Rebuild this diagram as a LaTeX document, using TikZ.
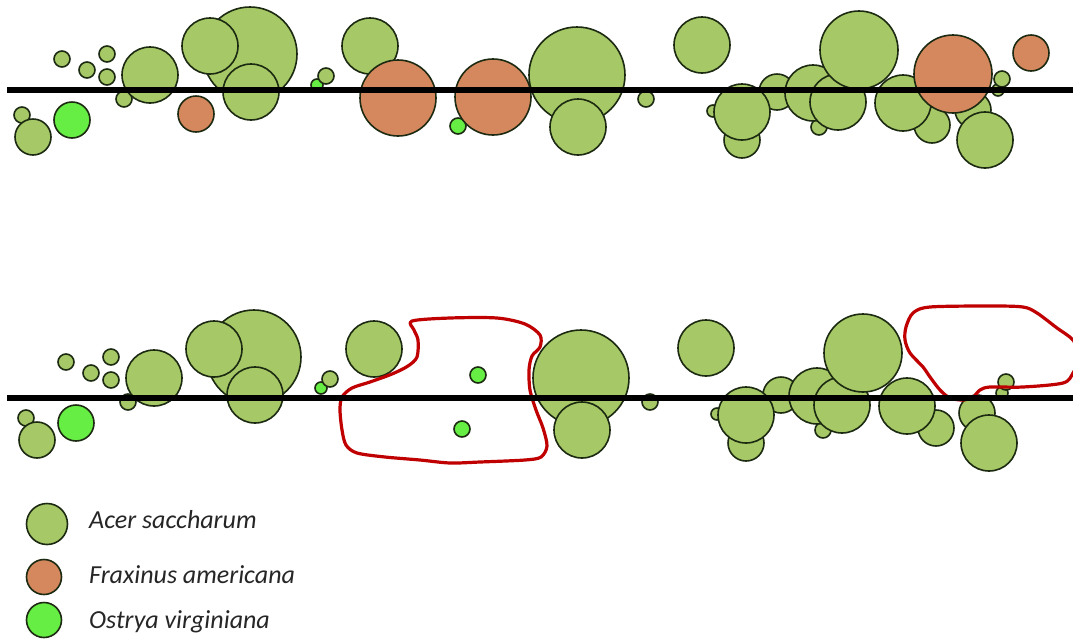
\documentclass[tikz,border=0pt]{standalone}
\usepackage{fontspec}
\newfontfamily\legendfont{Carlito}
\definecolor{acerc}{HTML}{A6C866}
\definecolor{fraxc}{HTML}{D5885E}
\definecolor{ostrc}{HTML}{66EE44}
\definecolor{outl}{HTML}{1C2A12}
\definecolor{gapc}{HTML}{C00000}
\tikzset{
  crown/.style={draw=outl, line width=1.6pt},
  acer/.style={crown, fill=acerc},
  frax/.style={crown, fill=fraxc},
  ostr/.style={crown, fill=ostrc},
  transect/.style={draw=black, line width=5.5pt},
  gapline/.style={draw=gapc, line width=3.2pt, line join=round},
  legendtext/.style={anchor=base west, inner sep=0pt, text=black!85,
    font=\legendfont\itshape\fontsize{26}{30}\selectfont}
}
% one crown: style, x, y, radius (all in px)
\newcommand\crown[4]{\path[#1] (#2,#3) circle[radius=#4pt];}
% crowns lying behind the ash trees
\newcommand\backcrowns{%
  \crown{acer}{22}{115}{8}
  \crown{acer}{33}{137}{18}
  \crown{ostr}{72}{120}{18}
  \crown{acer}{62}{59}{8}
  \crown{acer}{87}{70}{8}
  \crown{acer}{107}{54}{8}
  \crown{acer}{107}{77}{8}
  \crown{acer}{124}{99}{8}
  \crown{acer}{150}{75}{28}
  \crown{acer}{250}{54}{47}
  \crown{acer}{210}{46}{28}
  \crown{acer}{251}{92}{28}
  \crown{ostr}{317}{85}{6}
  \crown{acer}{326}{76}{8}
  \crown{acer}{370}{46}{28}
  \crown{ostr}{458}{126}{8}
  \crown{acer}{577}{75}{48}
  \crown{acer}{578}{127}{28}
  \crown{acer}{646}{99}{8}
  \crown{acer}{702}{45}{28}
  \crown{acer}{713}{111}{6}
  \crown{acer}{742}{140}{18}
  \crown{acer}{777}{92}{18}
  \crown{acer}{742}{112}{28}
  \crown{acer}{819}{127}{8}
  \crown{acer}{813}{93}{28}
  \crown{acer}{838}{102}{28}
  \crown{acer}{859}{50}{39}
  \crown{acer}{932}{125}{18}
  \crown{acer}{903}{103}{28}
  \crown{acer}{973}{110}{18}
  \crown{acer}{998}{90}{6}
}
% ash crowns (Fraxinus americana)
\newcommand\ashcrowns{%
  \crown{frax}{196}{114}{18}
  \crown{frax}{398}{98}{38}
  \crown{frax}{493}{97}{38}
  \crown{frax}{953}{74}{39}
  \crown{frax}{1031}{53}{18}
}
% crowns lying above the ash trees
\newcommand\frontcrowns{%
  \crown{acer}{1002}{79}{8}
  \crown{acer}{985}{140}{28}
}
\begin{document}
\begin{tikzpicture}[x=1pt,y=-1pt]
  \useasboundingbox (0,0) rectangle (1073,638);
  \clip (0,0) rectangle (1073,638);
  \fill[white] (0,0) rectangle (1073,638);

  % stand before ash loss
  \backcrowns
  \ashcrowns
  \frontcrowns
  \coordinate (tl) at (7,90);
  \coordinate (tr) at (1073,90);
  \draw[transect] (tl) -- (tr);

  % stand after ash loss
  \begin{scope}[shift={(4,303)}]
    \backcrowns
    \frontcrowns
  \end{scope}
  \crown{ostr}{478}{375}{8}
  \draw[gapline] plot[smooth cycle, tension=0.5] coordinates {
    (412,321) (450,318) (497,318) (525,324) (540,335) (540,347)
    (532,356) (529,370) (530,390) (536,410) (543,428) (547,446)
    (541,457) (525,460) (480,462) (450,463) (420,460) (385,457)
    (357,453) (346,445) (342,430) (340,410) (342,397) (352,388)
    (370,382) (392,374) (408,366) (417,357) (418,340) (414,330)};
  \draw[gapline] plot[smooth cycle, tension=0.5] coordinates {
    (906,327) (913,313) (930,307) (990,306) (1023,307) (1037,313)
    (1057,328) (1073,340) (1080,356) (1073,373) (1063,383)
    (1023,387) (990,387) (980,390) (973,397) (963,400) (950,398)
    (940,390) (930,377) (923,367) (910,353) (905,340)};
  \coordinate (bl) at (7,398);
  \coordinate (br) at (1073,398);
  \draw[transect] (bl) -- (br);

  % legend
  \path[acer] (47,524) circle[radius=20.5pt];
  \path[frax] (44,577) circle[radius=17.5pt];
  \path[ostr] (44,620) circle[radius=17.5pt];
  \node[legendtext] (la) at (89,528) {Acer saccharum};
  \node[legendtext] (lf) at (89,583) {Fraxinus americana};
  \node[legendtext] (lo) at (89,628) {Ostrya virginiana};
\end{tikzpicture}
\end{document}
